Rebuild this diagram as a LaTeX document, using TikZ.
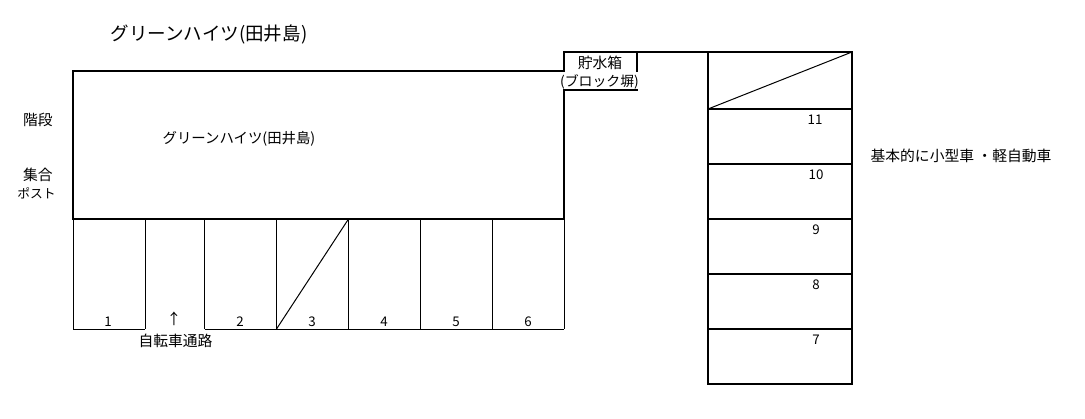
\documentclass[tikz,border=0pt]{standalone}
\usepackage{fontspec}
\setmainfont{Noto Sans CJK JP}[BoldFont={Noto Sans CJK JP}]
\tikzset{
  wall/.style={draw=black,line width=1.5pt,line cap=rect},
  thin line/.style={draw=black,line width=0.75pt},
  lbl/.style={inner sep=0pt,font=\fontsize{11.1pt}{13pt}\selectfont,text=black},
  num/.style={inner sep=0pt,font=\fontsize{10pt}{11pt}\selectfont,text=black},
}
\begin{document}
\begin{tikzpicture}[x=0.75pt,y=-0.75pt]
\useasboundingbox (0,0) rectangle (1085,418);
\fill[white] (0,0) rectangle (1085,418);
% building outline
\draw[wall] (564,90) -- (564,219) -- (73,219) -- (73,71) -- (564,71) -- (564,52) -- (852,52) -- (852,384) -- (708,384) -- (708,52);
\draw[wall] (637,52) -- (637,71);
\draw[wall] (564,90) -- (637,90);
\foreach \y in {109,164,219,274,329}{\draw[wall] (708,\y) -- (852,\y);}
\draw[thin line] (708,109) -- (852,52);
% bottom bays
\foreach \x in {73,145,204.5,276.5,348.5,420.5,492.5,564}{\draw[thin line] (\x,219) -- (\x,329);}
\draw[thin line] (73,329) -- (145,329);
\draw[thin line] (204.5,329) -- (564,329);
\draw[thin line] (276.5,329) -- (348.5,219);
% texts
\node[lbl,font=\fontsize{13.9pt}{16pt}\selectfont] (title) at (209,34) {グリーンハイツ(田井島)};
\node[lbl,font=\fontsize{10.8pt}{13pt}\selectfont] (name) at (239,138.5) {グリーンハイツ(田井島)};
\node[lbl] (stairs) at (38,119.5) {階段};
\node[lbl] (post1) at (38,174.5) {集合};
\node[lbl,font=\fontsize{9.6pt}{12pt}\selectfont] (post2) at (36.5,193) {ポスト};
\node[lbl] (tank1) at (600,62.5) {貯水箱};
\node[lbl,font=\fontsize{10.4pt}{13pt}\selectfont] (tank2) at (599.5,82) {(ブロック塀)};
\node[lbl] (note) at (961,155.5) {基本的に小型車 ・軽自動車};
\node[lbl] (bike) at (175.5,340.5) {自転車通路};
\node[lbl] (arrow) at (174,319) {↑};
\foreach \n/\x in {1/108,2/240,3/312,4/384,5/456,6/528}{\node[num] (b\n) at (\x,321.5) {\n};}
\foreach \n/\x/\y in {11/815/120,10/816/175,9/816/230,8/816/285,7/816/340}{\node[num] (r\n) at (\x,\y) {\n};}
\end{tikzpicture}
\end{document}
